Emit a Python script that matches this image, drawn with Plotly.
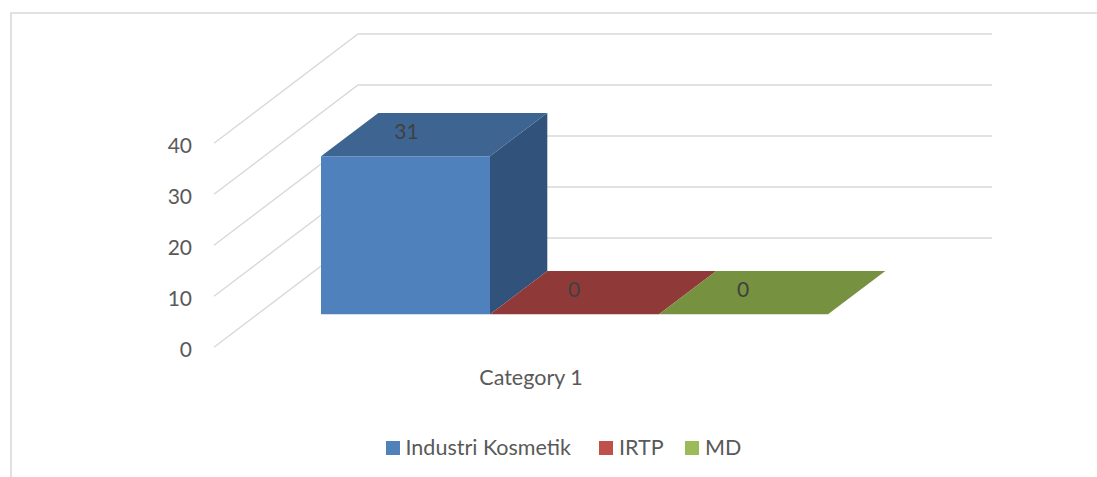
import plotly.graph_objects as go

# Data
category = "Category 1"
series_names = ["Industri Kosmetik", "IRTP", "MD"]
series_values = [31, 0, 0]
axis_ticks = [0, 10, 20, 30, 40]

front_colors = ["#4f81bd", "#c0504d", "#9bbb59"]
top_colors = ["#3e6592", "#8f3a38", "#76913f"]
side_colors = ["#31527a", "#7a2f2d", "#5f7a33"]

# Oblique projection of the 3D chart, in page pixels horizontally, value units vertically
W, H = 1097, 477
PX = 5.1
Y0 = 347.2                     # page y of value 0 on the front edge
to_units = lambda px: px / PX
WALL_FRONT_X, WALL_BACK_X, WALL_RIGHT_X = 214, 358, 992
WALL_RISE = to_units(Y0 - 238)
BAR_LEFT, BAR_W = 321, 169
BAR_FLOOR = to_units(Y0 - 314.3)
DEPTH_X, DEPTH_Y = 57.3, to_units(43.3)
TEXT = "#595959"

fig = go.Figure()


def poly(xs, ys, color):
    fig.add_trace(go.Scatter(x=xs, y=ys, mode="lines", fill="toself", fillcolor=color,
                             line=dict(width=0, color=color), showlegend=False, hoverinfo="skip"))


for t in axis_ticks:
    fig.add_trace(go.Scatter(
        x=[WALL_FRONT_X, WALL_BACK_X, WALL_RIGHT_X],
        y=[t, t + WALL_RISE, t + WALL_RISE],
        mode="lines", line=dict(color="#d9d9d9", width=1.4),
        showlegend=False, hoverinfo="skip"))

for i, (name, v) in enumerate(zip(series_names, series_values)):
    x0 = BAR_LEFT + i * BAR_W
    x1 = x0 + BAR_W
    lo = BAR_FLOOR
    hi = BAR_FLOOR + v
    if v > 0:
        poly([x1, x1 + DEPTH_X, x1 + DEPTH_X, x1, x1],
             [lo, lo + DEPTH_Y, hi + DEPTH_Y, hi, lo], side_colors[i])
    poly([x0, x1, x1 + DEPTH_X, x0 + DEPTH_X, x0],
         [hi, hi, hi + DEPTH_Y, hi + DEPTH_Y, hi], top_colors[i])
    if v > 0:
        poly([x0, x1, x1, x0, x0], [lo, lo, hi, hi, lo], front_colors[i])

for i, v in enumerate(series_values):
    x0 = BAR_LEFT + i * BAR_W
    fig.add_trace(go.Scatter(
        x=[x0 + BAR_W / 2 + (1 if v else -0.5)], y=[BAR_FLOOR + v + DEPTH_Y / 2 + to_units(0.5)],
        mode="text", text=[str(v)], textposition="middle center",
        textfont=dict(family="Lato", size=21, color="#404040"),
        showlegend=False, hoverinfo="skip"))

# Legend keys
LEG_X = [393, 606, 692]
LEG_TEXT_X = [405.5, 619, 705]
LEG_Y = to_units(Y0 - 448)
LEG_TEXT_Y = to_units(Y0 - 449.5)
for i, name in enumerate(series_names):
    fig.add_trace(go.Scatter(
        x=[LEG_X[i]], y=[LEG_Y], mode="markers", name=name,
        marker=dict(symbol="square", size=14, color=front_colors[i], line=dict(width=0)),
        showlegend=False, hoverinfo="skip"))
    fig.add_trace(go.Scatter(
        x=[LEG_TEXT_X[i]], y=[LEG_TEXT_Y], mode="text", name=name,
        text=[name], textposition="middle right",
        textfont=dict(family="Lato", size=21.5, color=TEXT),
        showlegend=False, hoverinfo="skip"))

fig.update_layout(
    width=W, height=H, margin=dict(l=0, r=0, t=0, b=0),
    paper_bgcolor="white", plot_bgcolor="white", showlegend=False,
    font=dict(family="Lato", size=21, color=TEXT),
    xaxis=dict(range=[0, W], domain=[0, 1], anchor="free", position=(H - 362) / H,
               tickmode="array", tickvals=[531], ticktext=[category],
               showgrid=False, zeroline=False, showline=False, ticks="",
               tickfont=dict(family="Lato", size=21.5, color=TEXT)),
    yaxis=dict(range=[(Y0 - H) / PX, Y0 / PX], domain=[0, 1], anchor="free", position=192 / W,
               tickmode="array", tickvals=axis_ticks, ticklabelshift=2,
               showgrid=False, zeroline=False, showline=False, ticks="",
               tickfont=dict(family="Lato", size=21, color=TEXT)),
    shapes=[dict(type="rect", xref="paper", yref="paper", x0=11 / W, x1=1.05, y0=-0.05, y1=(H - 13) / H,
                 line=dict(color="#d9d9d9", width=1.6), layer="below")],
)

fig.write_html("out.html", post_script="document.body.style.margin='0';",
               config=dict(displayModeBar=False))
